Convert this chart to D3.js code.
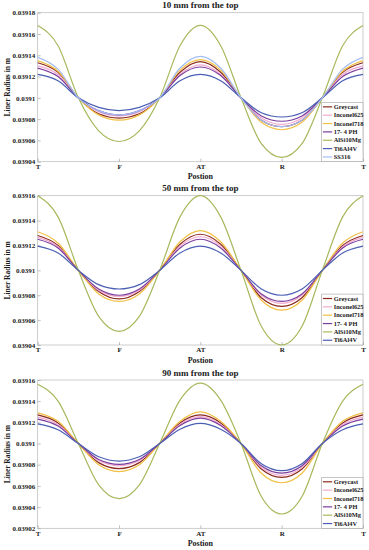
<!DOCTYPE html>
<html><head><meta charset="utf-8">
<script src="https://cdn.jsdelivr.net/npm/d3@7"></script>
<style>
body{margin:0;background:#fff}
svg{display:block}
text{font-family:"Liberation Serif","Times New Roman",serif;font-weight:bold;fill:#1a1a1a}
</style></head>
<body><svg id="c" width="369" height="550"></svg>
<script>
// ---------- DATA ----------
const positions = [0,0.25,0.5,0.75,1,1.25,1.5,1.75,2,2.25,2.5,2.75,3,3.25,3.5,3.75,4];
const xTickValues = [0,1,2,3,4];
const xTickLabels = ["T","F","AT","R","T"];

const seriesNames1 = ["Greycast","Inconel625","Inconel718","17- 4 PH","AlSi10Mg","Ti6Al4V","SS316"];
const seriesNames23 = ["Greycast","Inconel625","Inconel718","17- 4 PH","AlSi10Mg","Ti6Al4V"];

// Panel 1: 10 mm from the top
const p1Greycast   = [0.039133,0.039124,0.0391,0.039085,0.039081,0.039085,0.0391,0.039124,0.039134,0.039124,0.0391,0.039079,0.039073,0.039079,0.0391,0.039124,0.039133];
const p1Inconel625 = [0.03913,0.039122,0.0391,0.039087,0.039083,0.039087,0.0391,0.039122,0.039131,0.039122,0.0391,0.039081,0.039075,0.039081,0.0391,0.039122,0.03913];
const p1Inconel718 = [0.039135,0.039125,0.0391,0.039084,0.039079,0.039084,0.0391,0.039126,0.039136,0.039126,0.0391,0.039077,0.03907,0.039077,0.0391,0.039125,0.039135];
const p1PH174      = [0.039128,0.03912,0.0391,0.039088,0.039084,0.039088,0.0391,0.039121,0.039129,0.039121,0.0391,0.039083,0.039078,0.039083,0.0391,0.03912,0.039128];
const p1AlSi10Mg   = [0.039168,0.039149,0.0391,0.039069,0.039059,0.039069,0.0391,0.039149,0.039168,0.039149,0.0391,0.039057,0.039044,0.039057,0.0391,0.039149,0.039168];
const p1Ti6Al4V    = [0.039122,0.039116,0.0391,0.039091,0.039088,0.039091,0.0391,0.039116,0.039122,0.039116,0.0391,0.039086,0.039082,0.039086,0.0391,0.039116,0.039122];
const p1SS316      = [0.039138,0.039127,0.0391,0.039088,0.039084,0.039088,0.0391,0.039128,0.039139,0.039128,0.0391,0.039079,0.039073,0.039079,0.0391,0.039127,0.039138];

// Panel 2: 50 mm from the top
const p2Greycast   = [0.039128,0.03912,0.0391,0.039083,0.039077,0.039083,0.0391,0.039121,0.039129,0.039121,0.0391,0.039078,0.039071,0.039078,0.0391,0.03912,0.039128];
const p2Inconel625 = [0.0391265,0.039119,0.0391,0.039084,0.039079,0.039084,0.0391,0.0391195,0.039127,0.0391195,0.0391,0.03908,0.0390735,0.03908,0.0391,0.039119,0.0391265];
const p2Inconel718 = [0.039131,0.039122,0.0391,0.039081,0.039075,0.039081,0.0391,0.039123,0.039132,0.039123,0.0391,0.039076,0.039068,0.039076,0.0391,0.039122,0.039131];
const p2PH174      = [0.039125,0.039118,0.0391,0.039085,0.03908,0.039085,0.0391,0.039118,0.039125,0.039118,0.0391,0.039081,0.039075,0.039081,0.0391,0.039118,0.039125];
const p2AlSi10Mg   = [0.03916,0.039143,0.0391,0.039063,0.039051,0.039063,0.0391,0.039143,0.03916,0.039143,0.0391,0.039055,0.03904,0.039055,0.0391,0.039143,0.03916];
const p2Ti6Al4V    = [0.0391195,0.039114,0.0391,0.0390885,0.039085,0.0390885,0.0391,0.039114,0.0391195,0.039114,0.0391,0.039085,0.03908,0.039085,0.0391,0.039114,0.0391195];

// Panel 3: 90 mm from the top
const p3Greycast   = [0.039127,0.0391195,0.0391,0.039082,0.0390763,0.039082,0.0391,0.0391195,0.039127,0.0391195,0.0391,0.039076,0.039068,0.039076,0.0391,0.0391195,0.039127];
const p3Inconel625 = [0.039125,0.039118,0.0391,0.039084,0.039079,0.039084,0.0391,0.039118,0.0391255,0.039118,0.0391,0.0390775,0.03907,0.0390775,0.0391,0.039118,0.039125];
const p3Inconel718 = [0.039129,0.039121,0.0391,0.03908,0.0390735,0.03908,0.0391,0.039121,0.03913,0.039121,0.0391,0.039072,0.039063,0.039072,0.0391,0.039121,0.039129];
const p3PH174      = [0.039123,0.0391165,0.0391,0.039085,0.0390804,0.039085,0.0391,0.039117,0.039124,0.039117,0.0391,0.039079,0.039072,0.039079,0.0391,0.0391165,0.039123];
const p3AlSi10Mg   = [0.039156,0.03914,0.0391,0.039061,0.039048,0.039061,0.0391,0.039141,0.039157,0.039141,0.0391,0.03905,0.0390335,0.03905,0.0391,0.03914,0.039156];
const p3Ti6Al4V    = [0.0391185,0.039113,0.0391,0.0390875,0.0390835,0.0390875,0.0391,0.0391135,0.039119,0.0391135,0.0391,0.039081,0.0390744,0.039081,0.0391,0.039113,0.0391185];

const yTicks1 = [0.03904,0.03906,0.03908,0.0391,0.03912,0.03914,0.03916,0.03918];
const yLabels1 = ["0.03904","0.03906","0.03908","0.0391","0.03912","0.03914","0.03916","0.03918"];
const yTicks2 = [0.03904,0.03906,0.03908,0.0391,0.03912,0.03914,0.03916];
const yLabels2 = ["0.03904","0.03906","0.03908","0.0391","0.03912","0.03914","0.03916"];
const yTicks3 = [0.03902,0.03904,0.03906,0.03908,0.0391,0.03912,0.03914,0.03916];
const yLabels3 = ["0.03902","0.03904","0.03906","0.03908","0.0391","0.03912","0.03914","0.03916"];

const titles = ["10 mm from the top","50 mm from the top","90 mm from the top"];
const xTitle = "Postion";
const yTitle = "Liner Radius in m";

// ---------- STYLE ----------
const colors = {
  "Greycast":"#8a2b1f","Inconel625":"#f2a9cf","Inconel718":"#f1c044",
  "17- 4 PH":"#7a3d9c","AlSi10Mg":"#a6b95c","Ti6Al4V":"#4a5fb4","SS316":"#a3bdf4"
};

const svg = d3.select("#c");
const left = 37.7, right = 363;

function panel(cfg){
  const x = d3.scaleLinear().domain([0,4]).range([left,right]);
  const y = d3.scaleLinear().domain(cfg.yDomain).range([cfg.bottom,cfg.top]);
  const g = svg.append("g");

  // frame
  g.append("rect").attr("x",left).attr("y",cfg.top).attr("width",right-left).attr("height",cfg.bottom-cfg.top)
    .attr("fill","none").attr("stroke","#b8b8b8").attr("stroke-width",0.7);

  // axes
  const ya = d3.axisLeft(y).tickValues(cfg.yTicks).tickFormat((d,i)=>cfg.yLabels[i]).tickSize(-3).tickPadding(2.5);
  const yg = g.append("g").attr("transform",`translate(${left},0)`).call(ya);
  const xa = d3.axisBottom(x).tickValues(xTickValues).tickFormat((d,i)=>xTickLabels[i]).tickSize(-3).tickPadding(2.5);
  const xg = g.append("g").attr("transform",`translate(0,${cfg.bottom})`).call(xa);
  [yg,xg].forEach(a=>{
    a.select(".domain").remove();
    a.selectAll(".tick line").attr("stroke","#999").attr("stroke-width",0.6);
    a.selectAll("text").attr("font-size",7).attr("fill","#1a1a1a").attr("font-family","Liberation Serif, serif").attr("font-weight","bold");
  });

  // title
  g.append("text").attr("x",(left+right)/2).attr("y",cfg.top-4.5).attr("text-anchor","middle").attr("font-size",9).text(cfg.title);
  g.append("text").attr("x",(left+right)/2).attr("y",cfg.bottom+17.5).attr("text-anchor","middle").attr("font-size",8).text(xTitle);
  g.append("text").attr("transform",`translate(9.5,${(cfg.top+cfg.bottom)/2}) rotate(-90)`).attr("text-anchor","middle").attr("font-size",7.5).text(yTitle);

  // lines
  const line = d3.line().x((d,i)=>x(positions[i])).y(d=>y(d)).curve(d3.curveMonotoneX);
  cfg.names.forEach((n,k)=>{
    g.append("path").attr("d",line(cfg.data[k])).attr("fill","none")
      .attr("stroke",colors[n]).attr("stroke-width",1.2).attr("stroke-linejoin","round");
  });

  // legend
  const rowH = 8.35, n = cfg.names.length;
  const lh = n*rowH + 0.8, lw = 41.3;
  const lx = right - lw, ly = cfg.bottom - lh;
  g.append("rect").attr("x",lx).attr("y",ly).attr("width",lw).attr("height",lh)
    .attr("fill","#fff").attr("stroke","#a0a0a0").attr("stroke-width",0.6);
  cfg.names.forEach((nm,k)=>{
    const cy = ly + 4.4 + k*rowH;
    g.append("line").attr("x1",lx+1.2).attr("x2",lx+10.5).attr("y1",cy).attr("y2",cy)
      .attr("stroke",colors[nm]).attr("stroke-width",1.2);
    g.append("text").attr("x",lx+12).attr("y",cy+2.2).attr("font-size",6.4).text(nm);
  });
}

panel({title:titles[0],top:12.7,bottom:161.7,yDomain:[0.03904,0.03918],yTicks:yTicks1,yLabels:yLabels1,
  names:seriesNames1,data:[p1Greycast,p1Inconel625,p1Inconel718,p1PH174,p1AlSi10Mg,p1Ti6Al4V,p1SS316]});
panel({title:titles[1],top:195.7,bottom:345,yDomain:[0.03904,0.03916],yTicks:yTicks2,yLabels:yLabels2,
  names:seriesNames23,data:[p2Greycast,p2Inconel625,p2Inconel718,p2PH174,p2AlSi10Mg,p2Ti6Al4V]});
panel({title:titles[2],top:380,bottom:528.3,yDomain:[0.03902,0.03916],yTicks:yTicks3,yLabels:yLabels3,
  names:seriesNames23,data:[p3Greycast,p3Inconel625,p3Inconel718,p3PH174,p3AlSi10Mg,p3Ti6Al4V]});
</script></body></html>
